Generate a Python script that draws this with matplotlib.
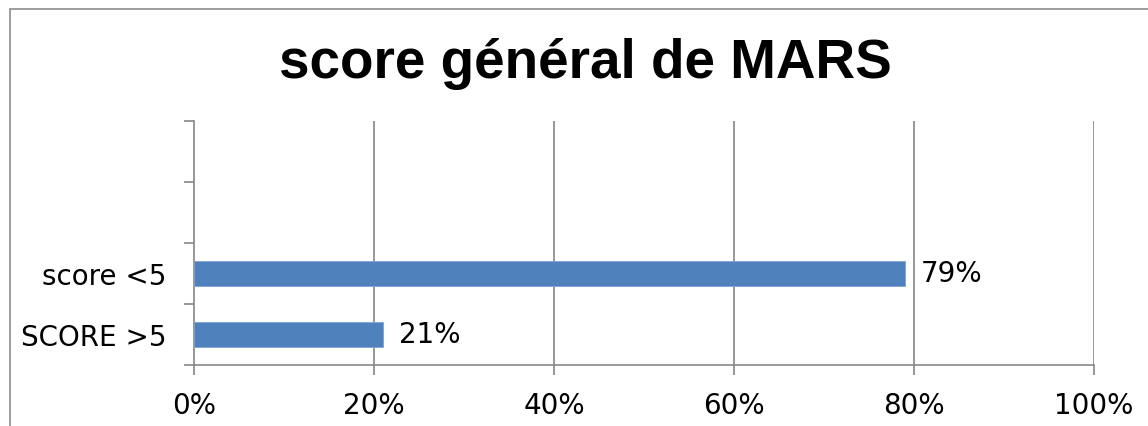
import matplotlib.pyplot as plt
from matplotlib.patches import Rectangle
import numpy as np

# data
categories = ["SCORE >5", "score <5"]
values = [21, 79]
n_slots = 4  # the Excel chart reserves 4 category slots, top two are empty
x_ticks = [0, 20, 40, 60, 80, 100]
title = "score général de MARS"

W, H = 1148, 427
fig = plt.figure(figsize=(W / 100, H / 100), dpi=100, facecolor="white")

# grey chart frame (left/top visible, right/bottom cut off)
fig.patches.append(Rectangle((10 / W, -0.1), 1.2, (H - 10) / H + 0.1,
                             transform=fig.transFigure, fill=False,
                             edgecolor="#8c8c8c", linewidth=1.2))

ax = fig.add_axes([194 / W, 1 - 366 / H, 900 / W, 244 / H])
grid_col = "#868686"
fs = 20

y = np.arange(len(categories))
ax.barh(y, values, height=0.4, color="#4F81BD", edgecolor="#7fa3d4",
        linewidth=0.6, zorder=3)

for yi, v in zip(y, values):
    ax.text(v + 1.8, yi, f"{v}%", va="center", ha="left",
            fontsize=fs, family="DejaVu Sans", color="black")

ax.set_xlim(0, 100)
ax.set_ylim(-0.5, n_slots - 0.5)

ax.set_xticks(x_ticks)
ax.set_xticklabels([f"{t}%" for t in x_ticks], fontsize=fs)
ax.tick_params(axis="x", length=7, width=1.2, color=grid_col, pad=12)

ax.set_yticks(np.arange(n_slots + 1) - 0.5)
ax.set_yticklabels([])
ax.set_yticks(y, minor=True)
ax.set_yticklabels(categories, minor=True, fontsize=fs)
ax.tick_params(axis="y", which="major", length=7, width=1.2, color=grid_col)
ax.tick_params(axis="y", which="minor", length=0, pad=20)

for t in x_ticks[1:]:
    ax.axvline(t, color=grid_col, linewidth=1.2, zorder=1)

for side in ["top", "right"]:
    ax.spines[side].set_visible(False)
for side in ["left", "bottom"]:
    ax.spines[side].set_color(grid_col)
    ax.spines[side].set_linewidth(1.2)

fig.text(585 / W, 1 - 64 / H, title, ha="center", va="center",
         fontsize=39.5, fontweight="bold", family="Liberation Sans")

plt.savefig("out.png", dpi=100)
